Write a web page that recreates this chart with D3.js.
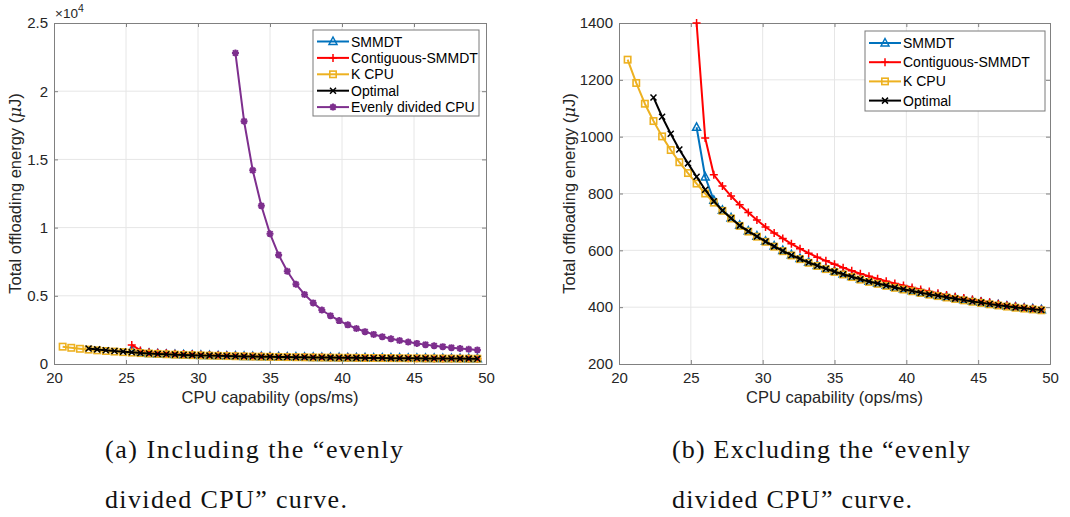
<!DOCTYPE html>
<html>
<head>
<meta charset="utf-8">
<script src="https://cdn.jsdelivr.net/npm/d3@7"></script>
<style>
  body { margin: 0; background: #fff; }
  svg { display: block; }
</style>
</head>
<body>
<div class="chart-container"></div>
<script>
// CPU capability grid (ops/ms)
const cpu = [20.6, 21.2, 21.8, 22.4, 23.0, 23.6, 24.2, 24.8, 25.4, 26.0, 26.6, 27.2, 27.8, 28.4, 29.0, 29.6,
  30.2, 30.8, 31.4, 32.0, 32.6, 33.2, 33.8, 34.4, 35.0, 35.6, 36.2, 36.8, 37.4, 38.0, 38.6, 39.2, 39.8,
  40.4, 41.0, 41.6, 42.2, 42.8, 43.4, 44.0, 44.6, 45.2, 45.8, 46.4, 47.0, 47.6, 48.2, 48.8, 49.4];

// each series ends at 49.4, values listed from its first point
const smmdt = [1033, 858, 776, 741, 714, 688, 668, 650, 632, 615, 599, 584, 571, 558, 547, 536, 526, 517, 508,
  499, 491, 484, 477, 470, 464, 458, 452, 446, 441, 436, 431, 426, 421, 417, 412, 408, 404, 400, 397, 394, 391];
const contiguous = [1400, 995, 866, 826, 791, 760, 733, 707, 682, 661, 642, 623, 606, 590, 576, 563, 551, 539,
  528, 518, 509, 500, 491, 483, 476, 469, 462, 455, 449, 443, 437, 432, 427, 422, 417, 412, 407, 403, 399, 395, 392];
const kCpu = [1271, 1189, 1116, 1055, 1001, 953, 910, 872, 835, 800, 768, 739, 712, 686, 666, 648, 630, 613, 597,
  582, 569, 556, 545, 534, 524, 515, 506, 497, 489, 482, 475, 468, 462, 456, 450, 444, 439, 434, 429, 424, 419,
  415, 410, 406, 402, 398, 395, 392, 389];
const optimal = [1138, 1070, 1010, 955, 906, 859, 813, 773, 740, 713, 687, 667, 649, 631, 614, 598, 583, 570, 557,
  546, 535, 525, 516, 507, 498, 490, 483, 476, 469, 463, 457, 451, 445, 440, 435, 430, 425, 420, 416, 411, 407,
  403, 399, 396, 393, 390];
const evenly = [22800, 17800, 14200, 11600, 9550, 8000, 6800, 5850, 5100, 4480, 3960, 3540, 3180, 2870, 2600,
  2370, 2170, 2000, 1850, 1720, 1610, 1510, 1420, 1340, 1270, 1200, 1140, 1085, 1030];

const seriesNames = ["SMMDT", "Contiguous-SMMDT", "K CPU", "Optimal", "Evenly divided CPU"];
const xTicks = [20, 25, 30, 35, 40, 45, 50];
const yTicksA = [0, 5000, 10000, 15000, 20000, 25000];
const yTickLabelsA = ["0", "0.5", "1", "1.5", "2", "2.5"];
const yTicksB = [200, 400, 600, 800, 1000, 1200, 1400];
const captionA = ["(a) Including the \u201cevenly", "divided CPU\u201d curve."];
const captionB = ["(b) Excluding the \u201cevenly", "divided CPU\u201d curve."];

const seriesStyle = {
  "SMMDT": { color: "#0072BD", marker: "tri" },
  "Contiguous-SMMDT": { color: "#FF0000", marker: "plus" },
  "K CPU": { color: "#EDB120", marker: "square" },
  "Optimal": { color: "#000000", marker: "cross" },
  "Evenly divided CPU": { color: "#7E2F8E", marker: "star" }
};

function toPoints(vals) {
  const xs = cpu.slice(cpu.length - vals.length);
  return vals.map((v, i) => [xs[i], v]);
}

const allSeries = {
  "SMMDT": toPoints(smmdt),
  "Contiguous-SMMDT": toPoints(contiguous),
  "K CPU": toPoints(kCpu),
  "Optimal": toPoints(optimal),
  "Evenly divided CPU": toPoints(evenly)
};

const width = 1070;
const height = 517;
const font = "'Liberation Sans', Arial, Helvetica, sans-serif";
const axisColor = "#808080";
const textColor = "#262626";

const svg = d3.select(".chart-container").append("svg")
  .attr("width", width)
  .attr("height", height)
  .attr("viewBox", [0, 0, width, height]);

function drawMarker(g, type, color, x, y) {
  if (type === "tri") {
    g.append("path").attr("d", `M${x},${y - 4.5}L${x + 4},${y + 3}L${x - 4},${y + 3}Z`)
      .attr("fill", "none").attr("stroke", color).attr("stroke-width", 1.5);
  } else if (type === "plus") {
    g.append("path").attr("d", `M${x - 4},${y}H${x + 4}M${x},${y - 4}V${y + 4}`)
      .attr("stroke", color).attr("stroke-width", 1.5);
  } else if (type === "square") {
    g.append("rect").attr("x", x - 3.2).attr("y", y - 3.2).attr("width", 6.4).attr("height", 6.4)
      .attr("fill", "none").attr("stroke", color).attr("stroke-width", 1.6);
  } else if (type === "cross") {
    g.append("path").attr("d", `M${x - 3},${y - 3}L${x + 3},${y + 3}M${x - 3},${y + 3}L${x + 3},${y - 3}`)
      .attr("stroke", color).attr("stroke-width", 1.5);
  } else if (type === "star") {
    g.append("path")
      .attr("d", `M${x - 3.5},${y}H${x + 3.5}M${x},${y - 3.5}V${y + 3.5}M${x - 2.6},${y - 2.6}L${x + 2.6},${y + 2.6}M${x - 2.6},${y + 2.6}L${x + 2.6},${y - 2.6}`)
      .attr("stroke", color).attr("stroke-width", 2);
    g.append("circle").attr("cx", x).attr("cy", y).attr("r", 2.2).attr("fill", color);
  }
}

function drawPanel(opts) {
  const { left, right, top, bottom, yDomain, yTicks, yLabels, names, legendBox, clipId } = opts;

  const x = d3.scaleLinear().domain([20, 50]).range([left, right]);
  const y = d3.scaleLinear().domain(yDomain).range([bottom, top]);

  const g = svg.append("g");

  g.append("clipPath").attr("id", clipId)
    .append("rect").attr("x", left).attr("y", top - 5).attr("width", right - left).attr("height", bottom - top + 5);

  // grid
  g.append("g").selectAll("line").data(xTicks.slice(1, -1)).join("line")
    .attr("x1", d => x(d)).attr("x2", d => x(d)).attr("y1", top).attr("y2", bottom)
    .attr("stroke", "#e6e6e6").attr("stroke-width", 1);
  g.append("g").selectAll("line").data(yTicks.slice(1, -1)).join("line")
    .attr("y1", d => y(d)).attr("y2", d => y(d)).attr("x1", left).attr("x2", right)
    .attr("stroke", "#e6e6e6").attr("stroke-width", 1);

  // axes (ticks inward, box on)
  const xAxis = d3.axisBottom(x).tickValues(xTicks).tickSize(-4).tickPadding(8).tickFormat(d3.format("d"));
  const yAxis = d3.axisLeft(y).tickValues(yTicks).tickSize(-4).tickPadding(6).tickFormat((d, i) => yLabels[i]);

  g.append("g").attr("transform", `translate(0,${bottom})`).call(xAxis);
  g.append("g").attr("transform", `translate(${left},0)`).call(yAxis);
  g.append("g").attr("transform", `translate(0,${top})`)
    .call(d3.axisTop(x).tickValues(xTicks).tickSize(-4).tickFormat(""));
  g.append("g").attr("transform", `translate(${right},0)`)
    .call(d3.axisRight(y).tickValues(yTicks).tickSize(-4).tickFormat(""));

  g.selectAll(".domain").attr("stroke", axisColor);
  g.selectAll(".tick line").attr("stroke", axisColor);
  g.selectAll(".tick text").attr("fill", textColor).attr("font-family", font).attr("font-size", 15);

  // labels
  g.append("text")
    .attr("x", (left + right) / 2).attr("y", bottom + 39)
    .attr("text-anchor", "middle").attr("font-family", font).attr("font-size", 16.5).attr("fill", textColor)
    .text("CPU capability (ops/ms)");

  const yl = g.append("text")
    .attr("transform", `translate(${opts.yLabelX},${(top + bottom) / 2}) rotate(-90)`)
    .attr("text-anchor", "middle").attr("font-family", font).attr("font-size", 16.5).attr("fill", textColor);
  yl.append("tspan").text("Total offloading energy (");
  yl.append("tspan").attr("font-family", "'DejaVu Serif', serif").attr("font-style", "italic").text("\u03bc");
  yl.append("tspan").text("J)");

  // series
  const plot = g.append("g").attr("clip-path", `url(#${clipId})`);
  const line = d3.line().x(d => x(d[0])).y(d => y(d[1]));
  names.forEach(name => {
    const st = seriesStyle[name];
    const pts = allSeries[name];
    plot.append("path").datum(pts)
      .attr("d", line).attr("fill", "none")
      .attr("stroke", st.color).attr("stroke-width", 2).attr("stroke-linejoin", "round");
    const mg = plot.append("g");
    pts.forEach(p => drawMarker(mg, st.marker, st.color, x(p[0]), y(p[1])));
  });

  // legend
  const lg = g.append("g");
  lg.append("rect")
    .attr("x", legendBox.x).attr("y", legendBox.y).attr("width", legendBox.w).attr("height", legendBox.h)
    .attr("fill", "#fff").attr("stroke", "#7a7a7a").attr("stroke-width", 1);
  names.forEach((name, i) => {
    const st = seriesStyle[name];
    const cy = legendBox.y + legendBox.first + i * legendBox.step;
    lg.append("line")
      .attr("x1", legendBox.x + 4).attr("x2", legendBox.x + 36).attr("y1", cy).attr("y2", cy)
      .attr("stroke", st.color).attr("stroke-width", 2);
    drawMarker(lg, st.marker, st.color, legendBox.x + 20, cy);
    lg.append("text")
      .attr("x", legendBox.x + 38).attr("y", cy + 5)
      .attr("font-family", font).attr("font-size", 14).attr("fill", "#000")
      .text(name);
  });

  return { x, y, g };
}

// panel (a)
const pa = drawPanel({
  left: 54, right: 486, top: 23, bottom: 364,
  yDomain: [0, 25000], yTicks: yTicksA, yLabels: yTickLabelsA,
  names: seriesNames, yLabelX: 21, clipId: "clipA",
  legendBox: { x: 313, y: 30, w: 166, h: 86, first: 11.5, step: 16.4 }
});
const expo = pa.g.append("text")
  .attr("x", 55).attr("y", 18).attr("font-family", font).attr("font-size", 13.5).attr("fill", textColor);
expo.append("tspan").text("\u00d710");
expo.append("tspan").attr("dy", -6).attr("font-size", 10.5).text("4");

// panel (b)
drawPanel({
  left: 619, right: 1050, top: 23, bottom: 364,
  yDomain: [200, 1400], yTicks: yTicksB, yLabels: yTicksB.map(String),
  names: seriesNames.slice(0, 4), yLabelX: 575, clipId: "clipB",
  legendBox: { x: 865, y: 31, w: 180, h: 80, first: 12, step: 19.2 }
});

// captions
function caption(lines, x0, widths) {
  lines.forEach((t, i) => {
    svg.append("text")
      .attr("x", x0).attr("y", i === 0 ? 458 : 508)
      .attr("font-family", "'Liberation Serif', 'DejaVu Serif', serif").attr("font-size", 26)
      .attr("fill", "#111")
      .attr("textLength", widths[i]).attr("lengthAdjust", "spacing")
      .text(t);
  });
}
caption(captionA, 105, [298, 242]);
caption(captionB, 672, [298, 240]);
</script>
</body>
</html>
